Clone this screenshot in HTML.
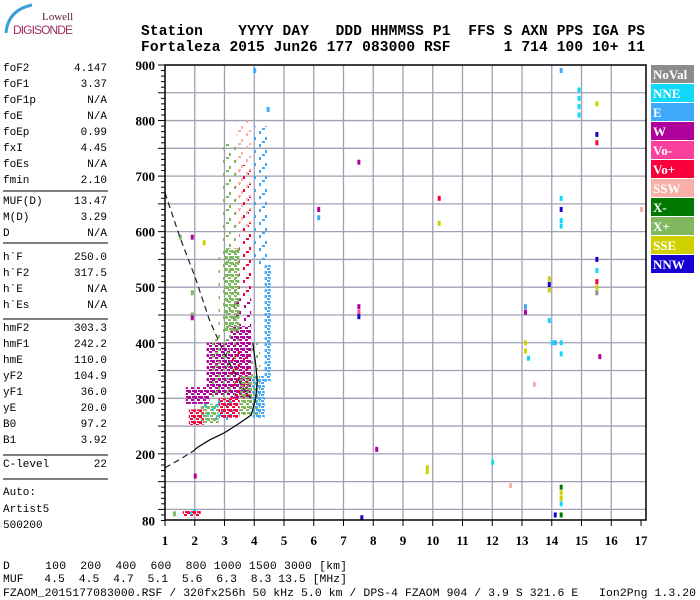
<!DOCTYPE html>
<html><head><meta charset="utf-8"><style>
body{margin:0;background:#fff}
svg{display:block}
.mono{font-family:"Liberation Mono",monospace}
.ax{font-family:"Liberation Serif",serif;font-weight:bold;font-size:13px}
</style></head><body>
<svg id="chart" width="700" height="600" viewBox="0 0 700 600" xmlns="http://www.w3.org/2000/svg">
<defs id="defs"></defs>
<g>
<path d="M6,33 Q8,10 32,5" stroke="#3aa0d8" stroke-width="3" fill="none"/>
<text x="42" y="20" font-family="Liberation Serif,serif" font-size="11" fill="#5a2040">Lowell</text>
<text x="13" y="34" font-family="Liberation Sans,sans-serif" font-size="12" fill="#a03060" textLength="60">DIGISONDE</text>
</g>
<g class="mono" font-weight="bold" font-size="14.5">
<text x="141" y="35" textLength="504" xml:space="preserve">Station    YYYY DAY   DDD HHMMSS P1  FFS S AXN PPS IGA PS</text>
<text x="141" y="51" textLength="504" xml:space="preserve">Fortaleza 2015 Jun26 177 083000 RSF      1 714 100 10+ 11</text>
</g>
<g id="params" class="mono" font-size="11"></g>
<g id="grid"></g>
<g id="marks"></g>
<g id="curves"></g>
<rect x="165" y="65" width="481" height="455" fill="none" stroke="#000" stroke-width="1.5"/>
<g id="axes"></g>
<g id="legend"></g>
<g class="mono" font-size="11.4">
<text x="3" y="569" xml:space="preserve" textLength="344">D     100  200  400  600  800 1000 1500 3000 [km]</text>
<text x="3" y="582" xml:space="preserve" textLength="344">MUF   4.5  4.5  4.7  5.1  5.6  6.3  8.3 13.5 [MHz]</text>
<text x="3" y="596" xml:space="preserve" textLength="693">FZAOM_2015177083000.RSF / 320fx256h 50 kHz 5.0 km / DPS-4 FZAOM 904 / 3.9 S 321.6 E   Ion2Png 1.3.20</text>
</g>
</svg>
<script>
const NS="http://www.w3.org/2000/svg";
const xTicks=[1,2,3,4,5,6,7,8,9,10,11,12,13,14,15,16,17];
const yTicks=[80,200,300,400,500,600,700,800,900];
const colorNames=["NoVal","NNE","E","W","Vo-","Vo+","SSW","X-","X+","SSE","NNW"];
const colorVals=["#8c8c8c","#10d8f8","#40a8f8","#b0009c","#f8409c","#f8003c","#f8b0a8","#007800","#80b860","#d0d000","#1800d0"];
// clusters: f0,f1,h0,h1,colour,density(0 sparse,1 dense)
const clusters=[
[1.7,2.5,290,320,3,1],[2.4,3.2,305,400,3,1],[3.2,3.9,300,430,3,1],[3.3,3.9,430,480,3,0],
[2.2,2.8,255,290,8,1],[2.8,3.5,330,570,8,0],[3.0,3.5,420,570,8,1],[3.5,4.2,270,340,8,1],[3.9,4.2,340,400,8,0],[2.5,3.4,290,420,8,0],[2.9,3.4,570,760,8,0],
[4.35,4.55,330,540,2,1],[3.95,4.35,265,340,2,1],[2.7,3.3,258,295,2,0],[4.0,4.5,540,790,2,0],
[1.8,2.3,252,280,5,1],[2.8,3.5,265,300,5,1],[3.2,3.8,300,390,5,0],[3.5,3.9,480,720,5,0],
[3.4,3.9,600,800,6,0],[2.3,2.9,265,290,1,0],
[1.6,2.2,86,97,5,1],[1.7,2.1,88,100,1,0]
];
const pts=[[6.15,640,3],[6.15,625,2],[7.5,725,3],[7.5,465,3],[7.5,455,4],[7.5,447,10],[10.2,660,5],[10.2,615,9],[8.1,208,3],[7.6,85,10],[9.8,175,9],[9.8,168,9],[12,185,1],[12.6,143,6],[13.1,465,2],[13.1,455,3],[13.1,400,9],[13.1,385,9],[13.2,372,1],[13.4,325,6],[13.9,515,9],[13.9,505,10],[13.9,495,9],[13.9,440,1],[14.1,400,2],[14.3,890,2],[14.3,660,1],[14.3,640,10],[14.3,620,1],[14.3,610,1],[14.3,400,1],[14.3,380,1],[14.1,90,10],[14.3,140,7],[14.3,130,9],[14.3,110,1],[14.3,90,7],[14.3,120,9],[14.9,855,1],[14.9,840,1],[14.9,825,1],[14.9,810,1],[15.5,830,9],[15.5,775,10],[15.5,760,5],[15.5,550,10],[15.5,530,1],[15.5,510,5],[15.5,500,9],[15.5,490,0],[15.6,375,3],[17,640,6],[1.5,590,8],[1.9,590,3],[1.9,450,8],[1.9,445,3],[2.0,160,3],[1.3,92,8],[2.3,580,9],[1.9,490,8],[14.0,400,1],[4.45,820,2],[4.0,890,2]];
const dashF=[1,1.5,2,2.5,3,3.3,3.6,3.9];
const dashH=[670,590,520,440,380,350,320,300];
const lowDashF=[1,1.5,1.95];
const lowDashH=[175,190,205];
const solidF=[1.95,2.1,2.5,3,3.5,3.9,4.05,4.1,4.05,4.0,3.95];
const solidH=[205,212,225,238,255,270,300,330,360,380,400];
const paramLabels=["foF2","foF1","foF1p","foE","foEp","fxI","foEs","fmin","MUF(D)","M(D)","D","h`F","h`F2","h`E","h`Es","hmF2","hmF1","hmE","yF2","yF1","yE","B0","B1","C-level"];
const paramVals=["4.147","3.37","N/A","N/A","0.99","4.45","N/A","2.10","13.47","3.29","N/A","250.0","317.5","N/A","N/A","303.3","242.2","110.0","104.9","36.0","20.0","97.2","3.92","22"];
const paramY=[71,87,103,119,135,151,167,183,204,220,236,260,276,292,308,331,347,363,379,395,411,427,443,467];

const X=f=>165+(f-1)*29.75, Y=h=>65+(900-h)*0.5555;
function mk(t,a,p){const e=document.createElementNS(NS,t);for(const k in a)e.setAttribute(k,a[k]);(p||document.getElementById('chart')).appendChild(e);return e;}
const defs=document.getElementById('defs');
colorVals.forEach((c,i)=>{
 const ox=(i*3)%7, oy=(i*5)%9;
 const p1=mk('pattern',{id:'p'+i+'_1',width:6,height:6,patternUnits:'userSpaceOnUse',patternTransform:'translate('+ox+','+oy+')'},defs);
 mk('rect',{x:0,y:0,width:3,height:3,fill:c},p1);
 mk('rect',{x:3,y:3,width:3,height:2,fill:c},p1);
 mk('rect',{x:4,y:0,width:2,height:2,fill:c},p1);
 const p0=mk('pattern',{id:'p'+i+'_0',width:11,height:13,patternUnits:'userSpaceOnUse',patternTransform:'translate('+ox+','+oy+')'},defs);
 mk('rect',{x:0,y:0,width:2,height:3,fill:c},p0);
 mk('rect',{x:6,y:6,width:2,height:3,fill:c},p0);
 mk('rect',{x:3,y:10,width:3,height:2,fill:c},p0);
});
const grid=document.getElementById('grid');
for(let h=100;h<900;h+=50){const l=mk('line',{x1:165,x2:646,y1:Y(h),y2:Y(h),stroke:'#a0a0b4','stroke-width':1.3},grid);
}
xTicks.forEach(f=>{if(f>1&&f<17){const l=mk('line',{x1:X(f),x2:X(f),y1:65,y2:520,stroke:'#a0a0b4','stroke-width':1.3},grid);
}});
const marks=document.getElementById('marks');
clusters.forEach(c=>{const r=mk('rect',{x:X(c[0]),y:Y(c[3]),width:X(c[1])-X(c[0]),height:Y(c[2])-Y(c[3]),fill:'url(#p'+c[4]+'_'+c[5]+')'},marks);
});
pts.forEach(p=>{const r=mk('rect',{x:X(p[0])-1,y:Y(p[1])-2.5,width:3,height:5,fill:colorVals[p[2]]},marks);
});
const cv=document.getElementById('curves');
const dl=mk('polyline',{points:dashF.map((f,i)=>X(f)+','+Y(dashH[i])).join(' '),fill:'none',stroke:'#222','stroke-width':1.2,'stroke-dasharray':'6,4'},cv);

const ld=mk('polyline',{points:lowDashF.map((f,i)=>X(f)+','+Y(lowDashH[i])).join(' '),fill:'none',stroke:'#222','stroke-width':1.2,'stroke-dasharray':'6,4'},cv);

const sl=mk('polyline',{points:solidF.map((f,i)=>X(f)+','+Y(solidH[i])).join(' '),fill:'none',stroke:'#000','stroke-width':1.2},cv);

const ax=document.getElementById('axes');
for(let h=80;h<=900;h+=10){mk('line',{x1:h%50==0?158:161,x2:165,y1:Y(h),y2:Y(h),stroke:'#000'},ax);}
yTicks.forEach(h=>{const t=mk('text',{x:155,y:Y(h)+5,'text-anchor':'end',class:'ax'},ax);t.textContent=h;
});
xTicks.forEach(f=>{mk('line',{x1:X(f),x2:X(f),y1:520,y2:526,stroke:'#000'},ax);
const t=mk('text',{x:X(f),y:545,'text-anchor':'middle',class:'ax'},ax);t.textContent=f;
});
const lg=document.getElementById('legend');
colorNames.forEach((n,i)=>{const y=65+i*19;
const r=mk('rect',{x:651,y:y,width:43,height:18,fill:colorVals[i]},lg);

const t=mk('text',{x:653,y:y+14,fill:'#fff','font-family':'Liberation Serif,serif','font-weight':'bold','font-size':13},lg);t.textContent=n;
});
const pp=document.getElementById('params');
paramLabels.forEach((l,i)=>{const a=mk('text',{x:3,y:paramY[i]},pp);a.textContent=l;

const b=mk('text',{x:107,y:paramY[i],'text-anchor':'end'},pp);b.textContent=paramVals[i];
});
[191,243,319,455,479].forEach(y=>{mk('line',{x1:3,x2:108,y1:y,y2:y,stroke:'#000'},pp);});
[["Auto:",495],["Artist5",512],["500200",528]].forEach(a=>{const t=mk('text',{x:3,y:a[1]},pp);t.textContent=a[0];
});
</script>
</body></html>
